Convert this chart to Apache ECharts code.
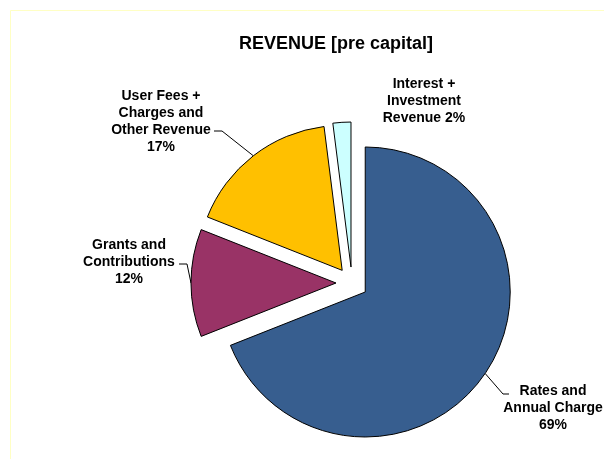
<!DOCTYPE html>
<html>
<head>
<meta charset="utf-8">
<script src="https://cdn.jsdelivr.net/npm/echarts@6/dist/echarts.min.js"></script>
<style>
  html, body { margin: 0; padding: 0; background: #ffffff; }
  #chart { width: 604px; height: 459px; }
</style>
</head>
<body>
<div id="chart"></div>
<script>
// Revenue split, clockwise from 12 o'clock
const categories = [
  'Rates and\nAnnual Charge',
  'Grants and\nContributions',
  'User Fees +\nCharges and\nOther Revenue',
  'Interest +\nInvestment\nRevenue'
];
const shares = [69, 12, 17, 2];
const sliceColors = ['#375E8F', '#993366', '#FFC000', '#CCFFFF'];
// text joining each name to its percentage
const percentJoin = ['\n', '\n', '\n', ' '];

const FONT = "'Liberation Sans', Arial, sans-serif";
const PIE_CENTER = [352, 283];
const PIE_RADIUS = 145;
const EXPLODE = 16;

// where each label sits, and the elbow/end of its leader line
const labelPlacement = [
  { x: 553, y: 408, line: [[503, 394], [509, 394]] },
  { x: 129, y: 262, line: [[187, 264], [179, 264]] },
  { x: 161, y: 122, line: [[222, 131], [214, 131]] },
  { x: 424, y: 101, line: null }
];

const total = shares.reduce((a, b) => a + b, 0);

// Each slice is pulled out along its own bisector: one pie series per slice,
// the other slices of that series left invisible.
function explodedCenter(k) {
  let before = 0;
  for (let i = 0; i < k; i++) before += shares[i];
  const midDeg = 90 - (before + shares[k] / 2) / total * 360;
  const rad = midDeg * Math.PI / 180;
  return [PIE_CENTER[0] + Math.cos(rad) * EXPLODE, PIE_CENTER[1] - Math.sin(rad) * EXPLODE];
}

const labelStyle = {
  show: true,
  position: 'outside',
  color: '#000000',
  fontFamily: FONT,
  fontWeight: 'bold',
  fontSize: 14,
  lineHeight: 17,
  align: 'center',
  formatter: function (p) {
    return p.name + percentJoin[p.dataIndex] + Math.round(p.percent) + '%';
  }
};

const series = categories.map((_, k) => ({
  type: 'pie',
  center: explodedCenter(k),
  radius: [0, PIE_RADIUS],
  startAngle: 90,
  clockwise: true,
  avoidLabelOverlap: false,
  emphasis: { disabled: true },
  labelLine: { lineStyle: { color: '#000000', width: 1 }, length: 10, length2: 10 },
  labelLayout: function (params) {
    const place = labelPlacement[params.dataIndex];
    const out = { x: place.x, y: place.y, align: 'center', verticalAlign: 'middle' };
    if (place.line && params.labelLinePoints) {
      out.labelLinePoints = [params.labelLinePoints[0], place.line[0], place.line[1]];
    }
    return out;
  },
  data: categories.map((name, i) => {
    const visible = i === k;
    return {
      name: name,
      value: shares[i],
      itemStyle: visible
        ? { color: sliceColors[i], borderColor: '#000000', borderWidth: 1 }
        : { color: 'rgba(0,0,0,0)', borderWidth: 0 },
      label: visible ? labelStyle : { show: false },
      labelLine: { show: visible && labelPlacement[i].line !== null }
    };
  })
}));

const chart = echarts.init(document.getElementById('chart'), null, { renderer: 'canvas' });
chart.setOption({
  backgroundColor: '#ffffff',
  animation: false,
  title: {
    text: 'REVENUE [pre capital]',
    left: 331,
    top: 30,
    textAlign: 'center',
    textStyle: { fontFamily: FONT, fontWeight: 'bold', fontSize: 18, color: '#000000' }
  },
  graphic: [{
    type: 'rect',
    silent: true,
    shape: { x: 10.5, y: 10.5, width: 640, height: 480 },
    style: { fill: null, stroke: '#FFFFC4', lineWidth: 1 }
  }],
  series: series
});
</script>
</body>
</html>
